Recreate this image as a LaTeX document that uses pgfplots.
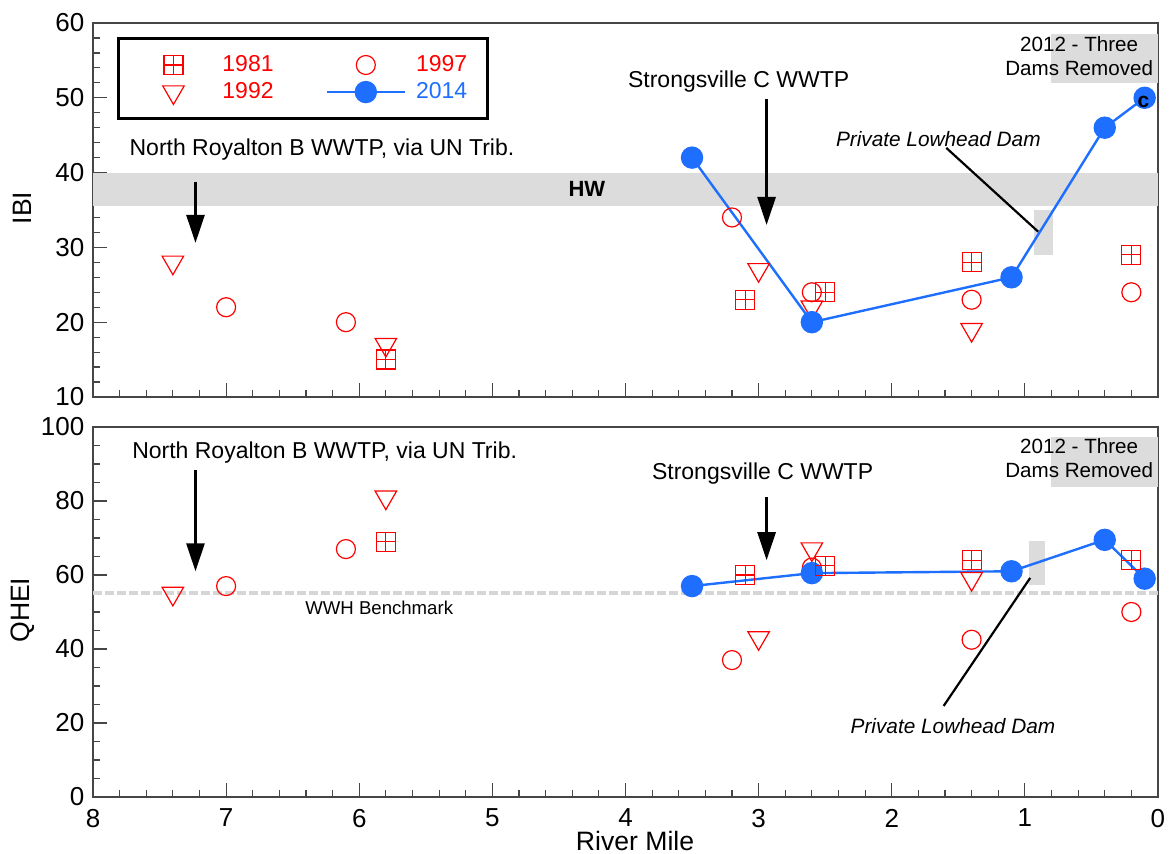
\documentclass[border=0pt]{standalone}
\usepackage{pgfplots}
\pgfplotsset{compat=1.18}
\usepackage{fontspec}
\setmainfont{Liberation Sans}
\usetikzlibrary{arrows.meta}

\definecolor{ptred}{RGB}{255,0,0}
\definecolor{ptblue}{RGB}{30,110,255}
\definecolor{bandgray}{RGB}{219,220,219}
\definecolor{benchgray}{RGB}{214,214,214}
\definecolor{spine}{RGB}{70,70,70}

% square split into four quarters
\pgfdeclareplotmark{sqplus}{%
  \pgfpathrectangle{\pgfqpoint{-\pgfplotmarksize}{-\pgfplotmarksize}}%
    {\pgfqpoint{2\pgfplotmarksize}{2\pgfplotmarksize}}%
  \pgfpathmoveto{\pgfqpoint{-\pgfplotmarksize}{0pt}}%
  \pgfpathlineto{\pgfqpoint{\pgfplotmarksize}{0pt}}%
  \pgfpathmoveto{\pgfqpoint{0pt}{-\pgfplotmarksize}}%
  \pgfpathlineto{\pgfqpoint{0pt}{\pgfplotmarksize}}%
  \pgfusepathqstroke}

\tikzset{
  note/.style={font=\fontsize{11.5}{13}\selectfont},
  dam/.style={font=\fontsize{10.4}{12}\selectfont\itshape},
  boxnote/.style={font=\fontsize{10.3}{12}\selectfont, align=center},
  down/.style={line width=1.35pt, -{Triangle[width=9pt,length=14pt]}},
}

\pgfplotsset{
  riveraxis/.style={
    scale only axis, width=532.5pt,
    x dir=reverse, xmin=0, xmax=8,
    xtick={0,1,...,8}, minor x tick num=4,
    tick align=inside, tick pos=left,
    major tick length=7pt, minor tick length=3.5pt,
    axis line style={spine, line width=0.8pt},
    tick style={spine, line width=0.6pt},
    tick label style={font=\fontsize{13}{15}\selectfont},
    yticklabel style={xshift=-0.8pt},
    xticklabel style={yshift=-2.5pt},
    /pgf/number format/assume math mode=true,
    every axis y label/.style={at={(axis description cs:-0.0662,0.505)}, rotate=90,
      anchor=center, font=\fontsize{13.3}{15}\selectfont},
    clip=false,
  },
  % every legend sample gets the same 39pt wide cell, marker in the middle
  wide legend/.style={legend image code/.code={%
      \path[draw=none, fill=none] (0pt,-1pt) rectangle (39pt,1pt);
      \draw[mark repeat=2,mark phase=2,##1,line width=#1, fill=none]
        plot coordinates {(0pt,0pt) (19.5pt,0pt) (39pt,0pt)};}},
  y81/.style={only marks, mark=sqplus, mark size=4.75pt, color=ptred, line width=0.6pt},
  y92/.style={only marks, mark=triangle, mark size=6.2pt, mark options={rotate=180}, color=ptred, line width=0.6pt},
  y97/.style={only marks, mark=o, mark size=4.75pt, color=ptred, line width=0.6pt},
  y14/.style={color=ptblue, line width=1.2pt, mark=*, mark size=5pt, mark options={fill=ptblue, draw=ptblue}},
}

\begin{document}
\begin{tikzpicture}
\useasboundingbox (-46.5pt,-28.5pt) rectangle (538pt,398.5pt);

% ---------------- IBI ----------------
\begin{axis}[riveraxis, at={(0pt,200pt)}, height=187pt,
  ymin=10, ymax=60, ytick={10,20,...,60}, minor y tick num=4,
  xticklabels={}, ylabel={IBI},
  legend columns=2,
  legend style={at={(axis description cs:0.0225,0.9626)}, anchor=north west,
    draw=black, line width=1.5pt, fill=white,
    inner xsep=8pt, inner ysep=6.5pt, row sep=0pt,
    font=\fontsize{11.5}{13}\selectfont,
    /tikz/every odd column/.style={column sep=3pt},
    /tikz/every even column/.style={column sep=24pt}},
]
\fill[bandgray] (axis cs:8,35.5) rectangle (axis cs:0,40);
\node[font=\fontsize{11}{13}\selectfont\bfseries] at (axis cs:4.29,37.75) {HW};
\fill[bandgray] (axis cs:0.8,52) rectangle (axis cs:0,58.5);
\node[boxnote] at (axis cs:0.592,55.6) {2012 - Three\\Dams Removed};
\fill[bandgray] (axis cs:0.93,29) rectangle (axis cs:0.79,35);

\node[note] at (axis cs:6.28,43.1) {North Royalton B WWTP, via UN Trib.};
\draw[down] (axis cs:7.23,38.8) -- (axis cs:7.23,30.6);
\node[note] at (axis cs:3.15,52.2) {Strongsville C WWTP};
\draw[down] (axis cs:2.94,49.8) -- (axis cs:2.94,33);
\node[dam] at (axis cs:1.65,44.5) {Private Lowhead Dam};
\draw[line width=1.1pt] (axis cs:1.59,43.3) -- (axis cs:0.9,32.1);

\addplot[y97, forget plot] coordinates {(7.0,22) (6.1,20) (3.2,34) (2.6,24) (1.4,23) (0.2,24)};
\addplot[y92, forget plot] coordinates {(7.4,28) (5.8,17) (3.0,27) (2.6,22) (1.4,19)};
\addplot[y14, forget plot] coordinates {(3.5,42) (2.6,20) (1.1,26) (0.4,46) (0.1,50)};
\addplot[y81, forget plot] coordinates {(5.8,15) (3.1,23) (2.5,24) (1.4,28) (0.2,29)};
\coordinate (clabel) at (axis cs:0.11,49.4);

\addlegendimage{y81, wide legend=0.6pt}
\addlegendentry[text=ptred]{1981}
\addlegendimage{y97, wide legend=0.6pt}
\addlegendentry[text=ptred]{1997}
\addlegendimage{y92, wide legend=0.6pt}
\addlegendentry[text=ptred]{1992}
\addlegendimage{y14, wide legend=1.2pt}
\addlegendentry[text=ptblue]{2014}
\end{axis}
% site letter printed over the last 2014 sample
\node[font=\fontsize{10.5}{12}\selectfont\bfseries] at (clabel) {c};

% ---------------- QHEI ----------------
\begin{axis}[riveraxis, at={(0pt,0pt)}, height=185pt,
  ymin=0, ymax=100, ytick={0,20,...,100}, minor y tick num=3,
  ylabel={QHEI}, xlabel={River Mile},
  every axis x label/.style={at={(axis description cs:0.509,0)}, anchor=center,
    yshift=-22pt, font=\fontsize{13.3}{15}\selectfont},
]
\draw[benchgray, line width=2pt, dash pattern=on 4.5pt off 1.5pt] (axis cs:8,55) -- (axis cs:0,55);
\node[font=\fontsize{9.3}{11}\selectfont] at (axis cs:5.85,51.1) {WWH Benchmark};
\fill[bandgray] (axis cs:0.8,83.8) rectangle (axis cs:0,97.3);
\node[boxnote] at (axis cs:0.592,91.6) {2012 - Three\\Dams Removed};
\fill[bandgray] (axis cs:0.97,57.3) rectangle (axis cs:0.85,69.3);

\node[note] at (axis cs:6.26,93) {North Royalton B WWTP, via UN Trib.};
\draw[down] (axis cs:7.23,88.4) -- (axis cs:7.23,61);
\node[note] at (axis cs:2.97,87.3) {Strongsville C WWTP};
\draw[down] (axis cs:2.94,81) -- (axis cs:2.94,64);
\node[dam] at (axis cs:1.54,19.2) {Private Lowhead Dam};
\draw[line width=1.1pt] (axis cs:1.61,24.6) -- (axis cs:0.96,59.2);

\addplot[y97] coordinates {(7.0,57) (6.1,67) (3.2,37) (2.6,62) (1.4,42.5) (0.2,50)};
\addplot[y92] coordinates {(7.4,55) (5.8,81) (3.0,43) (2.6,67) (1.4,59)};
\addplot[y14] coordinates {(3.5,57) (2.6,60.5) (1.1,61) (0.4,69.5) (0.1,59)};
\addplot[y81] coordinates {(5.8,69) (3.1,60) (2.5,62.5) (1.4,64) (0.2,64)};
\end{axis}
\end{tikzpicture}
\end{document}
